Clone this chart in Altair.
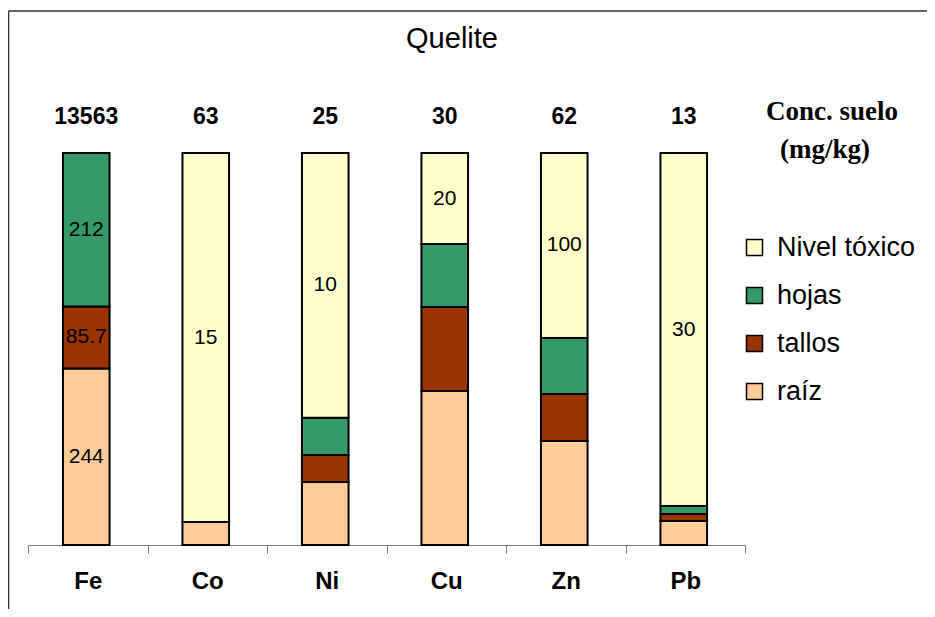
import altair as alt
import pandas as pd

metals = ["Fe", "Co", "Ni", "Cu", "Zn", "Pb"]
soil_conc = ["13563", "63", "25", "30", "62", "13"]
raiz = [244, 0.93, 2.38, 33.8, 56.2, 2.04]
tallos = [85.7, 0, 1.02, 18.5, 25.4, 0.59]
hojas = [212, 0, 1.40, 13.8, 30.3, 0.68]
toxico = [0, 15, 10, 20, 100, 30]
lbl_raiz = ["244", "", "", "", "", ""]
lbl_tallos = ["85.7", "", "", "", "", ""]
lbl_hojas = ["212", "", "", "", "", ""]
lbl_toxico = ["", "15", "10", "20", "100", "30"]

series = ["raíz", "tallos", "hojas", "Nivel tóxico"]
colors = {"raíz": "#FFCC99", "tallos": "#993300", "hojas": "#339966", "Nivel tóxico": "#FFFFCC"}

rows = []
for i, m in enumerate(metals):
    for k, (s, vals, lbls) in enumerate([
        ("raíz", raiz, lbl_raiz), ("tallos", tallos, lbl_tallos),
        ("hojas", hojas, lbl_hojas), ("Nivel tóxico", toxico, lbl_toxico)]):
        if vals[i] > 0:
            rows.append({"metal": m, "serie": s, "orden": k, "valor": vals[i], "lbl": lbls[i]})
df = pd.DataFrame(rows)

legend_order = ["Nivel tóxico", "hojas", "tallos", "raíz"]

FONT = "Liberation Sans"

xenc = alt.X("metal:N", sort=metals, title=None,
             scale=alt.Scale(paddingInner=0, paddingOuter=0),
             axis=alt.Axis(labelAngle=0, tickBand="extent", domainColor="#808080",
                           tickColor="#808080", tickSize=8, labelFontSize=24,
                           labelFontWeight="bold", labelFont=FONT, labelColor="black",
                           labelPadding=16))

base = alt.Chart(df).transform_stack(
    stack="valor", groupby=["metal"], sort=[alt.SortField("orden", order="ascending")],
    as_=["y0", "y1"], offset="normalize"
).transform_calculate(mid="(datum.y0 + datum.y1) / 2")

bars = base.mark_bar(width={"band": 0.39}, stroke="black", strokeWidth=2, xOffset=-1.5).encode(
    x=xenc,
    y=alt.Y("y0:Q", scale=alt.Scale(domain=[0, 1]), axis=None),
    y2="y1:Q",
    color=alt.Color("serie:N", scale=alt.Scale(domain=legend_order,
                                               range=[colors[s] for s in legend_order]),
                    legend=alt.Legend(title=None)),
)

seg_text = base.transform_filter("datum.lbl != ''").mark_text(
    font=FONT, fontSize=21, color="black", xOffset=-1.5
).encode(
    x=alt.X("metal:N", sort=metals),
    y=alt.Y("mid:Q"),
    text="lbl:N",
)

top_df = pd.DataFrame({"metal": metals, "soil": soil_conc})
top_text = alt.Chart(top_df).mark_text(
    font=FONT, fontSize=23, fontWeight="bold", color="black", xOffset=-1.5
).encode(
    x=alt.X("metal:N", sort=metals),
    y=alt.value(-36),
    text="soil:N",
)

title_text = alt.Chart(pd.DataFrame({"t": ["Quelite"]})).mark_text(
    font=FONT, fontSize=29, color="black"
).encode(x=alt.value(424), y=alt.value(-114), text="t:N")

conc1 = alt.Chart(pd.DataFrame({"t": ["Conc. suelo"]})).mark_text(
    font="Liberation Serif", fontSize=27, fontWeight="bold", color="black"
).encode(x=alt.value(804), y=alt.value(-41), text="t:N")
conc2 = alt.Chart(pd.DataFrame({"t": ["(mg/kg)"]})).mark_text(
    font="Liberation Serif", fontSize=27, fontWeight="bold", color="black"
).encode(x=alt.value(797), y=alt.value(-3), text="t:N")

frame_df = pd.DataFrame({"k": [0]})
frame_top = alt.Chart(frame_df).mark_rule(color="#333333", strokeWidth=1.5).encode(
    x=alt.value(-19.5), x2=alt.value(900), y=alt.value(-142))
frame_left = alt.Chart(frame_df).mark_rule(color="#333333", strokeWidth=1.5).encode(
    x=alt.value(-19.5), y=alt.value(-142), y2=alt.value(456))

chart = alt.layer(
    frame_top, frame_left, bars, seg_text, top_text, title_text, conc1, conc2
).properties(
    width=717, height=392,
    autosize=alt.AutoSizeParams(type="none"),
    padding={"left": 20, "top": 145, "right": 182, "bottom": 64},
).configure_view(stroke=None).configure_legend(
    orient="none", legendX=713, legendY=81, symbolType="square", symbolSize=256,
    symbolStrokeColor="black", symbolStrokeWidth=1.5, labelFontSize=27, labelFont=FONT,
    labelColor="black", rowPadding=20, padding=0, labelOffset=9, labelLimit=300
)

chart.save("out.html", embed_options={"renderer": "svg", "actions": False})
